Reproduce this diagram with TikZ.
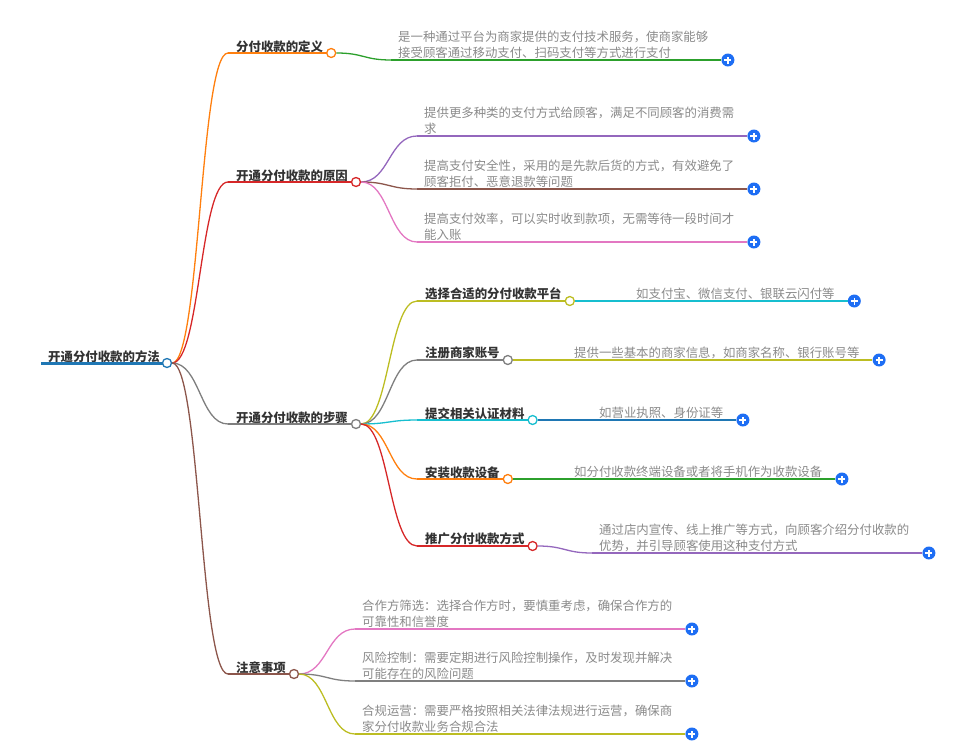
\documentclass[tikz,border=0pt]{standalone}
\usepackage{fontspec}
\setmainfont{Noto Sans CJK SC}
\usetikzlibrary{calc}
\definecolor{cblue}{HTML}{1F77B4}
\definecolor{corange}{HTML}{FF7F0E}
\definecolor{cgreen}{HTML}{2CA02C}
\definecolor{cred}{HTML}{D62728}
\definecolor{cpurple}{HTML}{9467BD}
\definecolor{cbrown}{HTML}{8C564B}
\definecolor{cpink}{HTML}{E377C2}
\definecolor{cgray}{HTML}{7F7F7F}
\definecolor{colive}{HTML}{BCBD22}
\definecolor{ccyan}{HTML}{17BECF}
\definecolor{plusblue}{HTML}{1E6EF4}
\definecolor{labelcolor}{HTML}{333333}
\definecolor{leafcolor}{HTML}{8A8A8A}

% curve from a parent dot to the start of a child's underline
\newcommand\linkto[3]{\draw[link, #1] let \p1=(#2), \p2=(#3) in
    (\p1) .. controls ({(\x1+\x2)/2},\y1) and ({(\x1+\x2)/2},\y2) .. (\p2);}

\begin{document}
\begin{tikzpicture}[x=1pt, y=-1pt,
    every node/.style={inner sep=0pt},
    topic/.style={font=\bfseries\fontsize{12.4}{15}\selectfont, text=labelcolor,
        anchor=south west, inner xsep=8pt, inner ysep=0.5pt},
    leaf/.style={font=\fontsize{12.4}{16}\selectfont, text=leafcolor,
        anchor=south west, align=left, inner xsep=7pt, inner ysep=1pt},
    dot/.style={circle, draw=#1, fill=white, line width=1.3pt, minimum size=9pt},
    plus/.style={circle, fill=plusblue, minimum size=13pt, path picture={
        \draw[white, line width=1.4pt]
            ($(path picture bounding box.center)+(-3.5pt,0)$) -- ++(7pt,0)
            ($(path picture bounding box.center)+(0,-3.5pt)$) -- ++(0,7pt);}},
    link/.style={line width=1.3pt},
]
\useasboundingbox (0,0) rectangle (966,755);

% root
\node[topic, inner xsep=7pt] (root) at (41,363) {开通分付收款的方法};
\draw[cblue, line width=3pt] (root.south west) -- (root.south east);
\node[dot=cblue] (rootd) at (root.south east) {};

% main branches
\foreach \nm/\y/\col/\txt in {t1/53/corange/分付收款的定义, t2/182/cred/开通分付收款的原因,
    t3/424/cgray/开通分付收款的步骤, t4/674/cbrown/注意事项}{
    \node[topic] (\nm) at (228,\y) {\txt};
    \draw[link, \col] (\nm.south west) -- (\nm.south east);
    \linkto{\col}{rootd.east}{\nm.south west}
    \node[dot=\col] (\nm d) at (\nm.south east) {};
}

% steps
\foreach \nm/\y/\col/\txt in {s1/301/colive/选择合适的分付收款平台, s2/360/cgray/注册商家账号,
    s3/420/ccyan/提交相关认证材料, s4/479/corange/安装收款设备, s5/546/cred/推广分付收款方式}{
    \node[topic] (\nm) at (417,\y) {\txt};
    \draw[link, \col] (\nm.south west) -- (\nm.south east);
    \linkto{\col}{t3d.east}{\nm.south west}
    \node[dot=\col] (\nm d) at (\nm.south east) {};
}

% leaves
\foreach \nm/\src/\x/\y/\col/\txt in {
    l1/t1d/391/60/cgreen/{是一种通过平台为商家提供的支付技术服务，使商家能够\\接受顾客通过移动支付、扫码支付等方式进行支付},
    r1/t2d/417/136/cpurple/{提供更多种类的支付方式给顾客，满足不同顾客的消费需\\求},
    r2/t2d/417/189/cbrown/{提高支付安全性，采用的是先款后货的方式，有效避免了\\顾客拒付、恶意退款等问题},
    r3/t2d/417/242/cpink/{提高支付效率，可以实时收到款项，无需等待一段时间才\\能入账},
    a1/s1d/629/301/ccyan/{如支付宝、微信支付、银联云闪付等},
    a2/s2d/567/360/colive/{提供一些基本的商家信息，如商家名称、银行账号等},
    a3/s3d/592/420/cblue/{如营业执照、身份证等},
    a4/s4d/567/479/cgreen/{如分付收款终端设备或者将手机作为收款设备},
    a5/s5d/592/553/cpurple/{通过店内宣传、线上推广等方式，向顾客介绍分付收款的\\优势，并引导顾客使用这种支付方式},
    n1/t4d/355/629/cpink/{合作方筛选：选择合作方时，要慎重考虑，确保合作方的\\可靠性和信誉度},
    n2/t4d/355/681/cgray/{风险控制：需要定期进行风险控制操作，及时发现并解决\\可能存在的风险问题},
    n3/t4d/355/734/colive/{合规运营：需要严格按照相关法律法规进行运营，确保商\\家分付收款业务合规合法}}{
    \node[leaf] (\nm) at (\x,\y) {\txt};
    \node[plus] (p\nm) at ([xshift=12.5pt]\nm.south east) {};
    \draw[link, \col] (\nm.south west) -- (p\nm.west);
    \linkto{\col}{\src.east}{\nm.south west}
}
\end{tikzpicture}
\end{document}
